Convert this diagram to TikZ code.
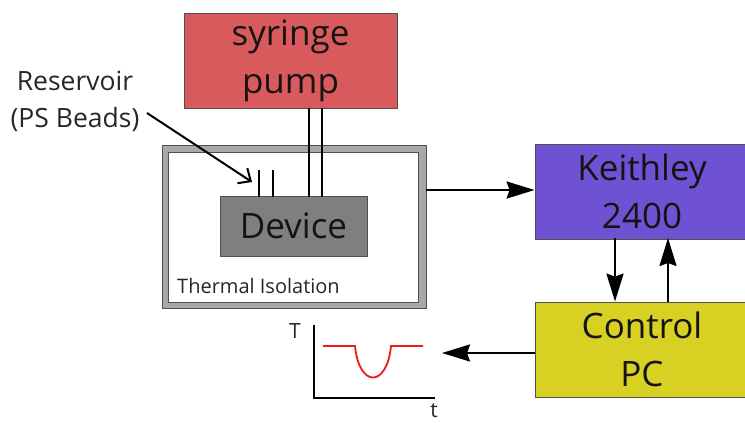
\documentclass[tikz,border=0pt]{standalone}
\usepackage{fontspec}
\setmainfont{Open Sans}
\usetikzlibrary{arrows.meta}
\definecolor{pumpred}{HTML}{D95A5C}
\definecolor{keithpurple}{HTML}{6F51D4}
\definecolor{pcyellow}{HTML}{D8D124}
\definecolor{devgray}{HTML}{7F7F7F}
\definecolor{bandgray}{HTML}{A8A8A8}
\definecolor{edgegray}{HTML}{505050}
\definecolor{curvered}{HTML}{F01818}
\begin{document}
\begin{tikzpicture}[x=1pt,y=-1pt,
  box/.style={draw=edgegray, line width=0.8pt, inner sep=0pt, text=black!92},
  bigtxt/.style={font=\fontsize{35}{48}\selectfont, align=center},
  conn/.style={line width=2.3pt, -{Stealth[length=28pt,width=17pt,inset=3pt]}},
  tube/.style={line width=1.8pt},
  smalltxt/.style={text=black!85, inner sep=0pt},
]
\useasboundingbox (0,0) rectangle (745,423);

% boxes
\node[box, fill=pumpred, bigtxt, minimum width=213pt, minimum height=95pt] (pump) at (290.5,60.5) {syringe\\pump};
\node[box, fill=bandgray, minimum width=264pt, minimum height=163pt] (isoout) at (294,226.5) {};
\node[box, fill=white, minimum width=250pt, minimum height=150pt] (isoin) at (293,227) {};
\node[box, fill=devgray, bigtxt, minimum width=147pt, minimum height=60pt] (dev) at (293.5,226) {Device};
\node[box, fill=keithpurple, bigtxt, minimum width=214pt, minimum height=95pt] (keith) at (642,191.5) {Keithley\\2400};
\node[box, fill=pcyellow, bigtxt, minimum width=214pt, minimum height=95pt] (pc) at (642,349.5) {Control\\PC};

% labels
\node[smalltxt, anchor=base west, font=\fontsize{20}{22}\selectfont] (isolab) at (177,293) {Thermal Isolation};
\node[smalltxt, align=center, font=\fontsize{26.5}{37}\selectfont] (res) at (75,101) {Reservoir\\(PS Beads)};

% tubes
\coordinate (tA) at (309,197);
\coordinate (tB) at (322,197);
\coordinate (rA) at (259,197);
\coordinate (rB) at (273,197);
\draw[tube] (tA) -- (tA |- pump.south);
\draw[tube] (tB) -- (tB |- pump.south);
\draw[tube] (rA) -- ++(0,-27);
\draw[tube] (rB) -- ++(0,-27);

% reservoir arrow
\coordinate (resstart) at (147,113);
\coordinate (resend) at (252,182);
\draw[line width=2pt, -{Straight Barb[length=10pt,width=18pt]}] (resstart) -- (resend);

% connectors
\coordinate (isoR) at (426,190);
\draw[conn] (isoR) -- (keith.west |- isoR);
\coordinate (kdown) at (615,238);
\coordinate (kup) at (668,238);
\draw[conn] (kdown) -- (kdown |- pc.north);
\draw[conn] (kup |- pc.north) -- (kup);
\coordinate (gtip) at (442,353);
\draw[conn] (pc.west |- gtip) -- (gtip);

% graph
\coordinate (ytop) at (314,325);
\coordinate (orig) at (314,398);
\coordinate (xend) at (435,398);
\draw[line width=2pt] (ytop) -- (orig) -- (xend);
\node[smalltxt, font=\fontsize{21}{22}\selectfont] (Tlab) at (295,331) {T};
\node[smalltxt, font=\fontsize{21}{22}\selectfont] (tlab) at (434,411) {t};
\draw[curvered, line width=1.8pt] (323,346) -- (355,346)
   .. controls (359,388) and (387,388) .. (391,346) -- (423,346);
\end{tikzpicture}
\end{document}
